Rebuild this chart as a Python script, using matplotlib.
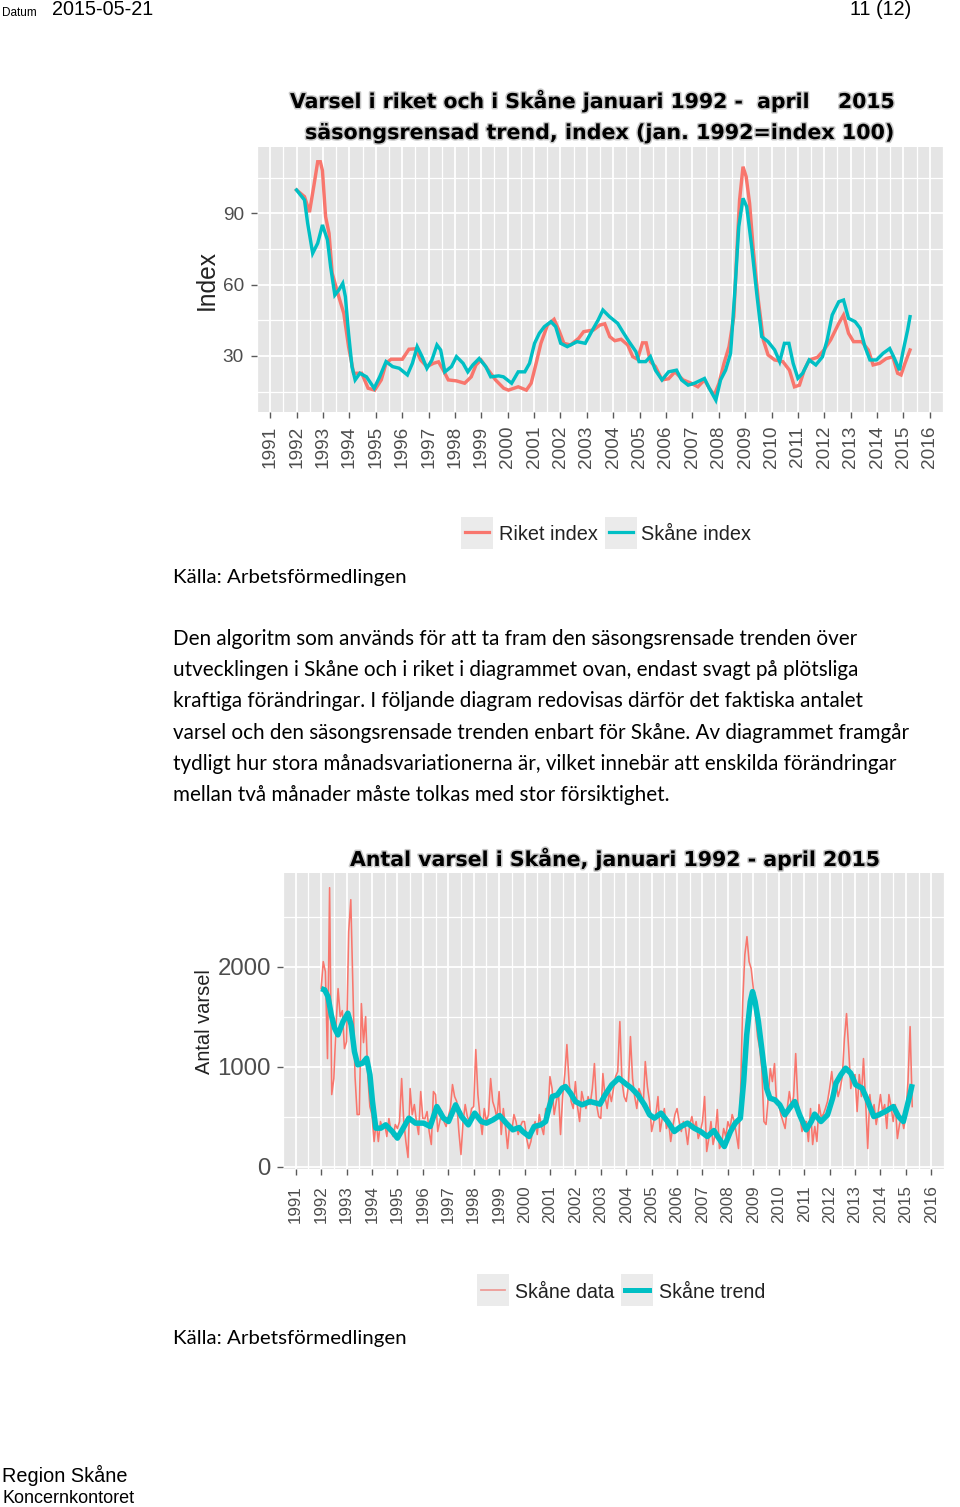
import matplotlib
matplotlib.use("Agg")
import matplotlib.pyplot as plt
import matplotlib.patheffects as pe
from matplotlib.patches import Rectangle
from matplotlib.lines import Line2D
import numpy as np

W, H, DPI = 960, 1507, 100
RED = "#F8766D"
CYAN = "#00BFC4"
PANEL = "#E5E5E5"
SANS = "Liberation Sans"

years = list(range(1991, 2017))
year_labels = [str(y) for y in years]

# ---------------- Chart 1: index (jan 1992 = 100) ----------------
riket_t = [1992.00, 1992.30, 1992.49, 1992.67, 1992.80, 1992.90, 1992.98, 1993.10, 1993.23, 1993.35,
           1993.60, 1993.79, 1993.97, 1994.16, 1994.47, 1994.71, 1994.96, 1995.21, 1995.39, 1995.58,
           1996.01, 1996.26, 1996.51, 1996.70, 1996.94, 1997.19, 1997.38, 1997.56, 1997.75, 1998.06,
           1998.37, 1998.62, 1998.80, 1998.99, 1999.17, 1999.54, 1999.85, 2000.03, 2000.40, 2000.71,
           2000.89, 2001.08, 2001.26, 2001.51, 2001.76, 2001.94, 2002.13, 2002.38, 2002.69, 2002.88,
           2003.25, 2003.50, 2003.68, 2003.87, 2004.06, 2004.30, 2004.55, 2004.74, 2004.92, 2005.11,
           2005.25, 2005.41, 2005.60, 2005.85, 2006.10, 2006.34, 2006.65, 2006.96, 2007.21, 2007.46,
           2007.64, 2007.83, 2008.01, 2008.20, 2008.39, 2008.57, 2008.69, 2008.79, 2008.92, 2009.04,
           2009.17, 2009.31, 2009.50, 2009.69, 2009.87, 2010.12, 2010.43, 2010.68, 2010.87, 2011.06,
           2011.24, 2011.43, 2011.74, 2011.99, 2012.24, 2012.55, 2012.73, 2012.92, 2013.11, 2013.42,
           2013.67, 2013.85, 2014.10, 2014.35, 2014.60, 2014.78, 2014.91, 2015.06, 2015.25]
riket_v = [99.8, 97.0, 90.5, 102.6, 111.7, 111.7, 108.0, 88.6, 81.6, 64.8,
           54.9, 47.9, 33.9, 22.7, 22.7, 16.4, 15.6, 19.9, 26.9, 28.6,
           28.6, 32.8, 33.0, 28.3, 25.5, 26.9, 27.5, 24.0, 19.9, 19.5,
           18.5, 21.2, 26.2, 28.3, 25.5, 19.9, 16.4, 15.6, 17.0, 15.6,
           18.5, 26.9, 35.3, 43.0, 45.4, 40.9, 35.3, 34.6, 37.4, 40.2,
           40.9, 43.0, 43.5, 38.1, 36.4, 37.0, 34.6, 29.7, 28.6, 35.5,
           35.5, 27.6, 25.5, 19.9, 20.4, 23.3, 19.9, 18.5, 17.0, 19.9,
           16.4, 13.5, 18.5, 26.9, 33.9, 46.5, 74.6, 95.6, 109.6, 105.4,
           94.2, 74.6, 53.5, 36.7, 30.4, 28.3, 27.6, 24.0, 17.0, 17.7,
           24.0, 28.3, 29.4, 32.5, 36.7, 43.7, 47.2, 39.5, 36.0, 36.0,
           32.5, 26.2, 26.9, 28.9, 29.6, 22.7, 22.0, 26.9, 32.5]

skane_t = [1992.00, 1992.30, 1992.42, 1992.61, 1992.80, 1992.98, 1993.17, 1993.29, 1993.45, 1993.60,
           1993.75, 1993.85, 1993.97, 1994.10, 1994.22, 1994.40, 1994.65, 1994.94, 1995.15, 1995.39,
           1995.64, 1995.89, 1996.20, 1996.39, 1996.57, 1996.76, 1996.94, 1997.13, 1997.32, 1997.46,
           1997.62, 1997.87, 1998.06, 1998.31, 1998.49, 1998.68, 1998.92, 1999.17, 1999.36, 1999.66,
           1999.84, 2000.15, 2000.40, 2000.65, 2000.83, 2001.02, 2001.20, 2001.39, 2001.64, 2001.82,
           2002.01, 2002.26, 2002.63, 2002.94, 2003.18, 2003.43, 2003.61, 2003.86, 2004.17, 2004.36,
           2004.60, 2004.86, 2004.98, 2005.23, 2005.41, 2005.60, 2005.85, 2006.10, 2006.40, 2006.59,
           2006.84, 2007.08, 2007.46, 2007.64, 2007.89, 2008.07, 2008.26, 2008.45, 2008.63, 2008.76,
           2008.92, 2009.06, 2009.25, 2009.44, 2009.63, 2009.87, 2010.12, 2010.31, 2010.49, 2010.66,
           2010.82, 2011.00, 2011.18, 2011.43, 2011.68, 2011.93, 2012.11, 2012.30, 2012.55, 2012.73,
           2012.92, 2013.17, 2013.36, 2013.54, 2013.73, 2013.98, 2014.23, 2014.48, 2014.66, 2014.85,
           2014.97, 2015.16, 2015.25]
skane_v = [99.8, 95.6, 85.8, 73.2, 77.4, 85.1, 78.8, 67.5, 55.6, 57.7,
           60.5, 54.9, 39.5, 25.5, 19.9, 22.7, 21.2, 16.4, 21.2, 27.6,
           25.5, 24.8, 22.0, 26.9, 33.9, 29.6, 24.8, 28.3, 34.6, 32.5,
           23.3, 25.5, 29.7, 26.9, 23.3, 26.2, 28.9, 25.5, 21.2, 21.6,
           21.2, 18.5, 23.3, 23.3, 26.9, 35.3, 39.5, 42.3, 44.4, 42.3,
           35.3, 33.9, 36.0, 35.3, 40.2, 45.1, 49.3, 46.5, 43.7, 40.2,
           36.0, 31.8, 27.6, 27.6, 29.7, 24.0, 19.9, 23.3, 24.0, 19.9,
           17.7, 18.5, 20.5, 16.4, 11.4, 19.9, 24.0, 31.1, 60.5, 84.4,
           96.3, 92.8, 75.9, 56.3, 38.1, 36.0, 32.5, 27.6, 35.3, 35.3,
           26.9, 20.6, 22.7, 28.3, 26.2, 29.6, 36.7, 47.2, 52.8, 53.5,
           45.8, 44.4, 41.6, 33.9, 28.3, 28.3, 31.1, 33.1, 28.9, 24.0,
           31.1, 40.9, 46.5]

# ---------------- Chart 2: number of notices in Skåne ----------------
trend_t = [1992.00, 1992.14, 1992.27, 1992.40, 1992.53, 1992.66, 1992.86, 1993.05, 1993.18, 1993.31,
           1993.44, 1993.63, 1993.79, 1993.92, 1994.02, 1994.15, 1994.35, 1994.54, 1994.80, 1995.00,
           1995.19, 1995.45, 1995.71, 1996.03, 1996.29, 1996.55, 1996.81, 1997.01, 1997.29, 1997.52,
           1997.79, 1998.04, 1998.30, 1998.50, 1998.76, 1999.02, 1999.28, 1999.54, 1999.79, 1999.93,
           2000.18, 2000.38, 2000.64, 2000.83, 2000.96, 2001.09, 2001.29, 2001.48, 2001.61, 2001.81,
           2002.00, 2002.26, 2002.58, 2002.97, 2003.17, 2003.43, 2003.71, 2003.95, 2004.21, 2004.46,
           2004.72, 2004.92, 2005.11, 2005.37, 2005.63, 2005.89, 2006.15, 2006.41, 2006.67, 2006.93,
           2007.19, 2007.45, 2007.64, 2007.86, 2008.10, 2008.29, 2008.49, 2008.62, 2008.74, 2008.88,
           2008.97, 2009.07, 2009.20, 2009.33, 2009.52, 2009.65, 2009.85, 2010.04, 2010.24, 2010.43,
           2010.63, 2010.82, 2011.08, 2011.28, 2011.41, 2011.66, 2011.92, 2012.12, 2012.25, 2012.44,
           2012.63, 2012.83, 2013.03, 2013.28, 2013.48, 2013.74, 2013.93, 2014.19, 2014.51, 2014.71,
           2014.90, 2015.03, 2015.16, 2015.25]
trend_v = [1780, 1767, 1700, 1517, 1384, 1317, 1450, 1534, 1417, 1150,
           1017, 1034, 1084, 917, 650, 384, 384, 417, 350, 284,
           367, 484, 434, 434, 400, 600, 484, 450, 617, 500,
           417, 534, 450, 434, 467, 510, 434, 367, 390, 350,
           300, 400, 417, 450, 584, 700, 717, 784, 800, 734,
           650, 617, 650, 624, 717, 817, 884, 834, 784, 717,
           617, 517, 484, 534, 450, 350, 400, 434, 384, 350,
           300, 360, 284, 200, 350, 434, 484, 850, 1317, 1650,
           1750, 1650, 1450, 1184, 784, 684, 667, 617, 517, 584,
           650, 517, 367, 450, 524, 450, 517, 684, 834, 917,
           984, 934, 817, 784, 667, 500, 517, 550, 600, 500,
           450, 584, 717, 824]

data_start_year = 1992  # monthly values from January 1992 to April 2015
skane_data = [
    1780, 2050, 1950, 1080, 2790, 720, 880, 1400, 1780, 1500, 1560, 1180,   # 1992
    1250, 2350, 2670, 1780, 900, 520, 520, 1630, 1240, 1500, 920, 600,      # 1993
    520, 250, 450, 250, 450, 380, 430, 300, 480, 350, 300, 420,             # 1994
    380, 450, 880, 450, 250, 90, 780, 520, 620, 450, 320, 750,              # 1995
    480, 480, 550, 350, 220, 750, 720, 350, 450, 550, 450, 400,             # 1996
    500, 580, 820, 700, 650, 350, 120, 450, 620, 500, 450, 580,             # 1997
    600, 1170, 720, 500, 320, 580, 450, 520, 880, 650, 580, 480,            # 1998
    750, 320, 580, 400, 180, 420, 350, 520, 450, 320, 400, 450,             # 1999
    450, 280, 180, 250, 380, 450, 320, 520, 400, 320, 580, 500,             # 2000
    900, 780, 520, 650, 750, 320, 700, 920, 1220, 850, 650, 580,            # 2001
    850, 600, 450, 750, 650, 580, 700, 620, 780, 1030, 620, 500,            # 2002
    480, 930, 700, 580, 750, 650, 780, 900, 950, 1450, 850, 700,            # 2003
    650, 800, 1300, 880, 700, 580, 780, 720, 600, 1050, 800, 650,           # 2004
    350, 450, 520, 700, 350, 480, 580, 380, 450, 250, 400, 520,             # 2005
    580, 450, 350, 450, 380, 220, 420, 500, 380, 450, 280, 350,             # 2006
    450, 700, 150, 280, 450, 220, 320, 570, 180, 220, 380, 300,             # 2007
    450, 380, 520, 450, 320, 180, 750, 1650, 2120, 2300, 2050, 1980,        # 2008
    1780, 1520, 1300, 1180, 980, 450, 420, 680, 980, 850, 1030, 620,        # 2009
    620, 520, 450, 380, 580, 750, 600, 700, 1130, 650, 500, 350,            # 2010
    450, 450, 250, 580, 220, 400, 250, 620, 500, 520, 580, 650,             # 2011
    780, 950, 750, 850, 700, 780, 900, 1280, 1530, 1180, 780, 900,          # 2012
    920, 550, 920, 700, 1080, 650, 180, 720, 500, 620, 420, 550,            # 2013
    720, 550, 620, 380, 720, 600, 450, 620, 280, 420, 500, 380,             # 2014
    520, 850, 1400, 600,                                                    # 2015
]

title1_lines = ["Varsel i riket och i Skåne januari 1992 -  april    2015",
                "säsongsrensad trend, index (jan. 1992=index 100)"]
title2 = "Antal varsel i Skåne, januari 1992 - april 2015"
legend1 = ["Riket index", "Skåne index"]
legend2 = ["Skåne data", "Skåne trend"]
body_lines = [
    "Den algoritm som används för att ta fram den säsongsrensade trenden över",
    "utvecklingen i Skåne och i riket i diagrammet ovan, endast svagt på plötsliga",
    "kraftiga förändringar. I följande diagram redovisas därför det faktiska antalet",
    "varsel och den säsongsrensade trenden enbart för Skåne. Av diagrammet framgår",
    "tydligt hur stora månadsvariationerna är, vilket innebär att enskilda förändringar",
    "mellan två månader måste tolkas med stor försiktighet.",
]
source = "Källa: Arbetsförmedlingen"

# ------------------------------------------------------------------
fig = plt.figure(figsize=(W / DPI, H / DPI), dpi=DPI)
fig.patch.set_facecolor("white")
R = fig.canvas.get_renderer()


def P(v):
    return v * 72.0 / DPI


def ftext(x, y, s, size, width=None, ha="left", va="baseline", rot=0, **kw):
    t = fig.text(x / W, 1 - y / H, s, fontsize=P(size), ha=ha, va=va, rotation=rot, **kw)
    if width:
        bb = t.get_window_extent(R)
        cur = bb.height if rot == 90 else bb.width
        t.set_fontsize(t.get_fontsize() * width / cur)
    return t


def axes_px(l, t, r, b):
    return fig.add_axes([l / W, 1 - b / H, (r - l) / W, (b - t) / H])


def style(ax, xlim, ylim, ymaj, ymin, ylabels, ysize, xsize, xpad, ypad):
    ax.set_facecolor(PANEL)
    for s in ax.spines.values():
        s.set_visible(False)
    ax.set_xlim(*xlim)
    ax.set_ylim(*ylim)
    ax.set_xticks(years)
    ax.set_xticklabels(year_labels, rotation=90, fontsize=P(xsize), color="#4D4D4D", family=SANS)
    ax.set_xticks([y + 0.5 for y in range(1990, 2017)], minor=True)
    ax.set_yticks(ymaj)
    ax.set_yticklabels(ylabels, fontsize=P(ysize), color="#4D4D4D", family=SANS)
    ax.set_yticks(ymin, minor=True)
    ax.grid(which="major", color="white", lw=1.3)
    ax.grid(which="minor", color="white", lw=0.9)
    ax.tick_params(which="major", length=P(6), width=1.0, color="#5a5a5a")
    ax.tick_params(axis="x", which="major", pad=P(xpad))
    ax.tick_params(axis="y", which="major", pad=P(ypad))
    ax.tick_params(which="minor", length=0)
    ax.set_axisbelow(True)


# ---------------- header ----------------
ftext(2, 16, "Datum", 10, width=35, family=SANS)
ftext(52, 15, "2015-05-21", 18, width=101, family=SANS)
ftext(911, 15, "11 (12)", 18, width=61, ha="right", family=SANS)

# ---------------- chart 1 ----------------
shadow = [pe.withStroke(linewidth=2.2, foreground="#c9c9c9")]
ftext(290, 108, title1_lines[0], 20, width=605, weight="bold", family="DejaVu Sans",
      path_effects=shadow)
ftext(305, 139, title1_lines[1], 20, width=590, weight="bold", family="DejaVu Sans",
      path_effects=shadow)

ax1 = axes_px(257, 147, 943, 412)
style(ax1, (1990.81, 2016.30), (6.4, 117.9), [30, 60, 90], [15, 45, 75, 105],
      ["30", "60", "90"], 19, 19, 8, 7)
ax1.plot(riket_t, riket_v, color=RED, lw=P(3.4), solid_joinstyle="miter", zorder=3)
ax1.plot(skane_t, skane_v, color=CYAN, lw=P(3.4), solid_joinstyle="miter", zorder=4)
ftext(207, 280, "Index", 24, width=60, rot=90, ha="center", va="center",
      family=SANS, color="#222222")

# legend 1
for (bx, tx, label, col, lw, tw) in [(461, 499, legend1[0], RED, 3.2, 98),
                                     (605, 641, legend1[1], CYAN, 3.2, 109)]:
    fig.patches.append(Rectangle((bx / W, 1 - 549 / H), 32 / W, 32 / H, transform=fig.transFigure,
                                 facecolor="#EBEBEB", edgecolor="none"))
    fig.lines.append(Line2D([(bx + 4) / W, (bx + 28) / W], [1 - 532 / H, 1 - 532 / H],
                            transform=fig.transFigure, color=col, lw=P(lw)))
    ftext(tx, 540, label, 20, width=tw, family=SANS, color="#222222")

ftext(173, 583, source, 20, width=233, family="Lato", color="black")

# ---------------- body text ----------------
body_targets = [679, 680, 687, 732, 722, 496]
sizes = []
for s, wdt in zip(body_lines, body_targets):
    t = fig.text(0, 0, s, fontsize=P(20), family="Lato")
    bb = t.get_window_extent(R)
    sizes.append(P(20) * wdt / bb.width)
    t.remove()
body_fs = float(np.median(sizes))
for i, s in enumerate(body_lines):
    fig.text(173 / W, 1 - (645 + 31.2 * i) / H, s, fontsize=body_fs, family="Lato",
             va="baseline", color="black")

# ---------------- chart 2 ----------------
ftext(350, 866, title2, 20, width=530, weight="bold", family="DejaVu Sans", path_effects=shadow)

ax2 = axes_px(283, 873, 944, 1169)
style(ax2, (1990.64, 2016.36), (-25, 2937), [0, 1000, 2000], [500, 1500, 2500],
      ["0", "1000", "2000"], 24, 17, 10, 6)
months_t = [data_start_year + i / 12.0 for i in range(len(skane_data))]
ax2.plot(months_t, skane_data, color=RED, lw=P(1.6), zorder=3)
ax2.plot(trend_t, trend_v, color=CYAN, lw=P(5.5), solid_capstyle="butt", zorder=4)
ftext(205, 1022, "Antal varsel", 18, width=105, rot=90, ha="center", va="center",
      family=SANS, color="#222222")

for (bx, tx, label, col, lw, tw) in [(477, 515, legend2[0], "#EE9C97", 1.8, 99),
                                     (621, 659, legend2[1], CYAN, 5.0, 106)]:
    fig.patches.append(Rectangle((bx / W, 1 - 1306 / H), 32 / W, 32 / H, transform=fig.transFigure,
                                 facecolor="#EBEBEB", edgecolor="none"))
    fig.lines.append(Line2D([(bx + 4) / W, (bx + 28) / W], [1 - 1290 / H, 1 - 1290 / H],
                            transform=fig.transFigure, color=col, lw=P(lw)))
    ftext(tx, 1298, label, 20, width=tw, family=SANS, color="#222222")

ftext(173, 1344, source, 20, width=233, family="Lato", color="black")

# ---------------- footer ----------------
ftext(2, 1482, "Region Skåne", 18, width=125, family=SANS)
ftext(2, 1503, "Koncernkontoret", 17, width=132, family=SANS)

fig.savefig("out.png", dpi=DPI, facecolor="white")
